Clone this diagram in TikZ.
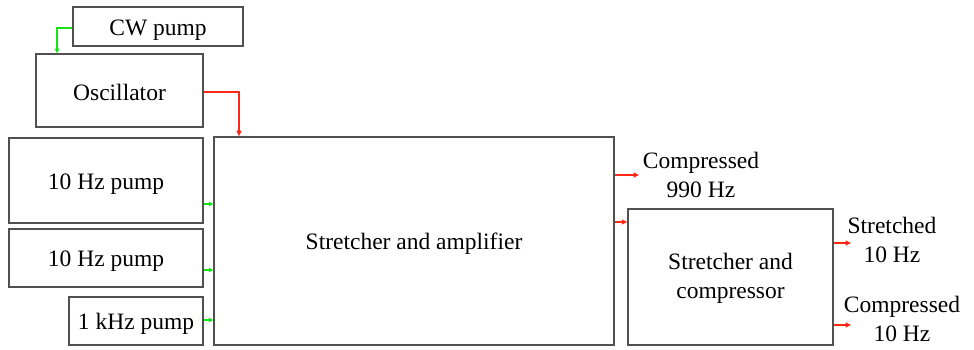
\documentclass[tikz,border=0pt]{standalone}
\usepackage{fontspec}
\setmainfont{Liberation Serif}
\usetikzlibrary{arrows.meta}
\definecolor{boxgray}{RGB}{80,80,80}
\definecolor{gline}{RGB}{20,230,20}
\definecolor{rline}{RGB}{250,40,20}
\begin{document}
\begin{tikzpicture}[x=1pt,y=-1pt,
  box/.style={draw=boxgray,line width=1.5pt,fill=white,inner sep=0pt},
  gar/.style={draw=gline,line width=1.4pt,-{Triangle[length=4.5pt,width=4.5pt]}},
  rar/.style={draw=rline,line width=1.5pt,-{Triangle[length=5.5pt,width=5pt]}},
  lbl/.style={font=\fontsize{23.5}{29}\selectfont,align=center}]
\useasboundingbox (0,0) rectangle (974,350);
% boxes
\node[box,minimum width=170pt,minimum height=39pt] (cw) at (158,26.5) {};
\node[lbl] at ([yshift=-3.5pt]cw.center) {CW pump};
\node[box,minimum width=167pt,minimum height=73pt] (osc) at (119.5,90.5) {};
\node[lbl] at ([yshift=-2pt]osc.center) {Oscillator};
\node[box,minimum width=194pt,minimum height=85pt] (p1) at (106,180.5) {};
\node[lbl] at ([yshift=-4pt]p1.center) {10 Hz pump};
\node[box,minimum width=194pt,minimum height=58pt] (p2) at (106,258) {};
\node[lbl] at ([yshift=-3pt]p2.center) {10 Hz pump};
\node[box,minimum width=134pt,minimum height=48pt] (p3) at (136,321) {};
\node[lbl] at ([yshift=-3pt]p3.center) {1 kHz pump};
\node[box,minimum width=400pt,minimum height=208pt] (sa) at (414,241) {};
\node[lbl] at ([yshift=-3pt]sa.center) {Stretcher and amplifier};
\node[box,minimum width=205pt,minimum height=136pt] (sc) at (730.5,277) {};
\node[lbl] at ([yshift=-1.5pt]sc.center) {Stretcher and\\compressor};
% output labels
\node[lbl] (o1) at (701,175) {Compressed\\990 Hz};
\node[lbl] (o2) at (892,240) {Stretched\\10 Hz};
\node[lbl] (o3) at (902,319) {Compressed\\10 Hz};
% connectors
\coordinate (c1) at (57,28);
\draw[gar] (cw.west |- c1) -| (c1 |- osc.north);
\coordinate (c2) at (239,92);
\draw[rar] (osc.east |- c2) -| (c2 |- sa.north);
\draw[gar] (p1.east |- 0,204) -- (sa.west |- 0,204);
\draw[gar] (p2.east |- 0,270) -- (sa.west |- 0,270);
\draw[gar] (p3.east |- 0,320) -- (sa.west |- 0,320);
\coordinate (e1) at (639,175);
\draw[rar] (sa.east |- e1) -- (e1);
\draw[rar] (sa.east |- 0,222) -- (sc.west |- 0,222);
\coordinate (e2) at (851,243);
\draw[rar] (sc.east |- e2) -- (e2);
\coordinate (e3) at (851,325);
\draw[rar] (sc.east |- e3) -- (e3);
\end{tikzpicture}
\end{document}
